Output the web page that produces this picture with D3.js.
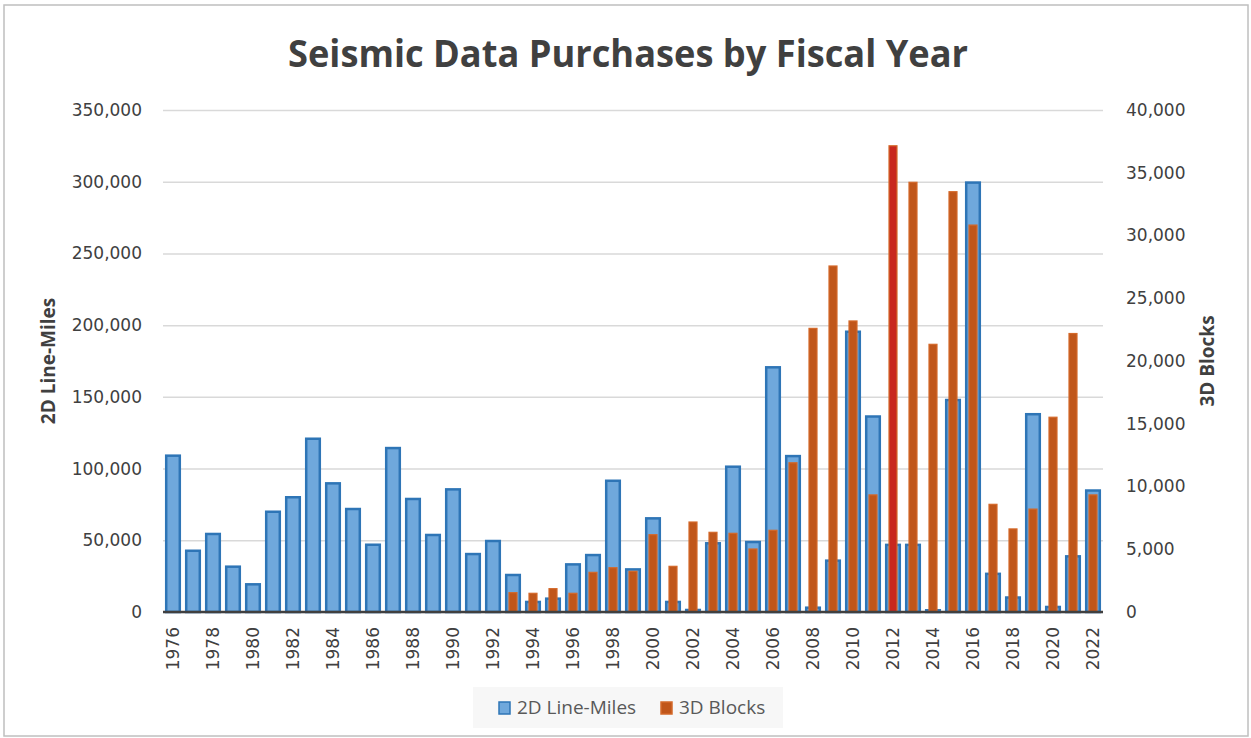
<!DOCTYPE html>
<html>
<head>
<meta charset="utf-8">
<script src="https://d3js.org/d3.v7.min.js"></script>
<style>
  body { margin: 0; background: #fff; }
  .axis text { font-family: "DejaVu Sans", sans-serif; font-size: 17px; fill: #404040; }
  .axis path, .axis line { display: none; }
  .grid line { stroke: #d9d9d9; stroke-width: 1.5px; }
  .grid path { display: none; }
  .title { font-family: "Open Sans", sans-serif; font-weight: bold; fill: #404040; }
  .axis-title { font-family: "Open Sans", sans-serif; font-weight: bold; font-size: 19px; fill: #404040; }
  .legend text { font-family: "Open Sans", sans-serif; font-size: 19px; fill: #595959; }
</style>
</head>
<body>
<script>
// fiscal years
var years = d3.range(1976, 2023);

// 2D line-miles (left axis)
var lineMiles = [109000, 42700, 54400, 31600, 19300, 69900, 80000, 120800, 89700, 71800,
  46900, 114300, 78800, 53700, 85500, 40400, 49500, 25800, 7000, 9300,
  33200, 39700, 91500, 29700, 65300, 7000, 1400, 47900, 101300, 48800,
  170600, 108700, 3000, 35800, 195400, 136300, 46800, 46800, 1200, 147800,
  299400, 26600, 10100, 137900, 3500, 38800, 84700];

// 3D blocks (right axis), none before 1993
var blocks = [null, null, null, null, null, null, null, null, null, null,
  null, null, null, null, null, null, null, 1540, 1490, 1860,
  1490, 3160, 3530, 3240, 6160, 3640, 7170, 6350, 6270, 5020,
  6510, 11890, 22600, 27570, 23190, 9330, 37150, 34240, 21330, 33490,
  30830, 8580, 6620, 8200, 15520, 22190, 9330];

var leftTicks = [0, 50000, 100000, 150000, 200000, 250000, 300000, 350000];
var rightTicks = [0, 5000, 10000, 15000, 20000, 25000, 30000, 35000, 40000];
var yearTicks = years.filter(function(d) { return d % 2 == 0; });

var W = 1251, H = 738;
var plotL = 163, plotR = 1103, plotT = 110, plotB = 612;

var svg = d3.select("body").append("svg")
  .attr("width", W)
  .attr("height", H);

// chart frame
svg.append("rect")
  .attr("x", 4).attr("y", 5)
  .attr("width", 1244).attr("height", 731)
  .attr("fill", "#fff")
  .attr("stroke", "#bfbfbf")
  .attr("stroke-width", 1.5);

var x = d3.scaleBand().domain(years).range([plotL, plotR]);
var y1 = d3.scaleLinear().domain([0, 350000]).range([plotB, plotT]);
var y2 = d3.scaleLinear().domain([0, 40000]).range([plotB, plotT]);

// gridlines
svg.append("g")
  .attr("class", "grid")
  .attr("transform", "translate(" + plotL + ",0)")
  .call(d3.axisLeft(y1).tickValues(leftTicks).tickSize(-(plotR - plotL)).tickFormat(""));

// left axis labels
svg.append("g")
  .attr("class", "axis")
  .attr("transform", "translate(" + plotL + ",0)")
  .call(d3.axisLeft(y1).tickValues(leftTicks).tickSize(0).tickPadding(21).tickFormat(d3.format(",")));

// right axis labels
svg.append("g")
  .attr("class", "axis")
  .attr("transform", "translate(" + plotR + ",0)")
  .call(d3.axisRight(y2).tickValues(rightTicks).tickSize(0).tickPadding(23).tickFormat(d3.format(",")));

// 2D bars
var bw = x.bandwidth() * 0.68;
svg.append("g").selectAll("rect")
  .data(years)
  .enter().append("rect")
    .attr("x", function(d) { return x(d) + (x.bandwidth() - bw) / 2; })
    .attr("y", function(d, i) { return y1(lineMiles[i]); })
    .attr("width", bw)
    .attr("height", function(d, i) { return plotB - y1(lineMiles[i]); })
    .attr("fill", "#6fa8dc")
    .attr("stroke", "#2e75b6")
    .attr("stroke-width", 2.5);

// 3D bars
var ow = x.bandwidth() * 0.4;
svg.append("g").selectAll("rect")
  .data(years.filter(function(d, i) { return blocks[i] != null; }))
  .enter().append("rect")
    .attr("x", function(d) { return x(d) + (x.bandwidth() - ow) / 2; })
    .attr("y", function(d) { return y2(blocks[years.indexOf(d)]); })
    .attr("width", ow)
    .attr("height", function(d) { return plotB - y2(blocks[years.indexOf(d)]); })
    .attr("fill", function(d) { return d == 2012 ? "#c8281e" : "#c0561a"; })
    .attr("stroke", "#d4692a")
    .attr("stroke-width", 1.2);

// baseline
svg.append("line")
  .attr("x1", plotL).attr("x2", plotR)
  .attr("y1", plotB).attr("y2", plotB)
  .attr("stroke", "#404040")
  .attr("stroke-width", 2.5);

// x axis (even years, rotated)
var xa = svg.append("g")
  .attr("class", "axis")
  .attr("transform", "translate(0," + plotB + ")")
  .call(d3.axisBottom(x).tickValues(yearTicks).tickSize(0));
xa.selectAll("text")
  .attr("transform", "rotate(-90)")
  .attr("x", -15)
  .attr("y", 0)
  .attr("dy", "0.35em")
  .attr("text-anchor", "end");

// title
svg.append("text")
  .attr("class", "title")
  .attr("x", 628).attr("y", 67)
  .attr("text-anchor", "middle")
  .attr("font-size", 38)
  .attr("textLength", 680)
  .attr("lengthAdjust", "spacingAndGlyphs")
  .text("Seismic Data Purchases by Fiscal Year");

// axis titles
svg.append("text")
  .attr("class", "axis-title")
  .attr("transform", "translate(55,361) rotate(-90)")
  .attr("text-anchor", "middle")
  .text("2D Line-Miles");

svg.append("text")
  .attr("class", "axis-title")
  .attr("transform", "translate(1214,361) rotate(-90)")
  .attr("text-anchor", "middle")
  .text("3D Blocks");

// legend
var legend = svg.append("g").attr("class", "legend");
legend.append("rect")
  .attr("x", 473).attr("y", 687)
  .attr("width", 310).attr("height", 41)
  .attr("fill", "#f7f7f7");

var items = [
  { label: "2D Line-Miles", fill: "#6fa8dc", stroke: "#2e75b6", x: 499 },
  { label: "3D Blocks", fill: "#c0561a", stroke: "#d4692a", x: 661 }
];
var li = legend.selectAll("g.item")
  .data(items)
  .enter().append("g")
    .attr("class", "item");
li.append("rect")
  .attr("x", function(d) { return d.x; })
  .attr("y", 702)
  .attr("width", 11).attr("height", 12)
  .attr("fill", function(d) { return d.fill; })
  .attr("stroke", function(d) { return d.stroke; })
  .attr("stroke-width", 1.5);
li.append("text")
  .attr("x", function(d) { return d.x + 18; })
  .attr("y", 714)
  .text(function(d) { return d.label; });
</script>
</body>
</html>
